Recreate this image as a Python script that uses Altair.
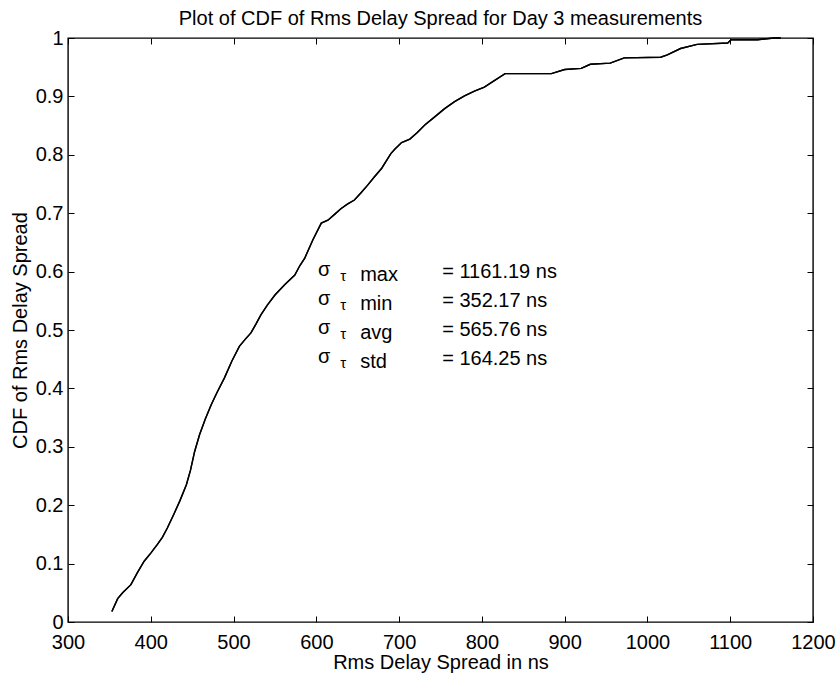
import altair as alt
import pandas as pd

# ---- data ----
rms_delay_ns = [353, 360, 366, 376, 384, 392, 400, 408, 414, 420, 428, 435, 443, 448,
                453, 459, 466, 473, 480, 489, 498, 507, 514, 521, 527, 533, 541, 550,
                562, 574, 580, 586, 596, 606, 614, 622, 630, 638, 646, 654, 662, 670,
                679, 690, 695, 703, 713, 722, 731, 743, 755, 767, 779, 791, 803, 815,
                828, 856, 884, 900, 920, 931, 955, 972, 1016, 1024, 1040, 1060, 1097,
                1101, 1133, 1153, 1161]
cdf_values = [0.018, 0.040, 0.050, 0.064, 0.085, 0.104, 0.118, 0.133, 0.145, 0.161,
              0.185, 0.207, 0.235, 0.260, 0.292, 0.321, 0.348, 0.372, 0.393, 0.418,
              0.447, 0.472, 0.484, 0.495, 0.510, 0.526, 0.543, 0.560, 0.578, 0.594,
              0.610, 0.623, 0.655, 0.683, 0.688, 0.698, 0.708, 0.716, 0.7225, 0.735,
              0.748, 0.762, 0.777, 0.802, 0.810, 0.821, 0.827, 0.838, 0.851, 0.865,
              0.879, 0.891, 0.901, 0.909, 0.916, 0.927, 0.939, 0.939, 0.939, 0.946,
              0.948, 0.955, 0.957, 0.966, 0.967, 0.971, 0.982, 0.989, 0.9915, 0.997,
              0.997, 1.0, 1.0]
x_ticks = [300, 400, 500, 600, 700, 800, 900, 1000, 1100, 1200]
y_ticks = [0, 0.1, 0.2, 0.3, 0.4, 0.5, 0.6, 0.7, 0.8, 0.9, 1]
stat_names = ["max", "min", "avg", "std"]
stat_values = ["= 1161.19 ns", "= 352.17 ns", "= 565.76 ns", "= 164.25 ns"]

FONT = "Liberation Sans"
FS = 20

curve = pd.DataFrame({"rms": rms_delay_ns, "cdf": cdf_values})
stats = pd.DataFrame({"name": stat_names, "value": stat_values})
stats["row"] = range(len(stats))
stats["y"] = 0.6 - 0.05 * stats["row"]

xscale = alt.Scale(domain=[300, 1200], nice=False, zero=False)
yscale = alt.Scale(domain=[0, 1], nice=False)

TICK = 6

x_bottom = alt.Axis(values=x_ticks, orient="bottom", offset=-TICK, tickSize=TICK,
                    domain=False, grid=False, labelFlush=False, labelOverlap=False,
                    labelPadding=10, labelFontSize=FS, labelFont=FONT, labelColor="black",
                    format="d",
                    tickColor="black", title="Rms Delay Spread in ns", titleFontSize=FS,
                    titleFont=FONT, titleFontWeight="normal", titleColor="black",
                    titlePadding=0)
y_left = alt.Axis(values=y_ticks, orient="left", offset=-TICK, tickSize=TICK,
                  domain=False, grid=False, labelFlush=False, labelOverlap=False,
                  labelPadding=5, labelFontSize=FS, labelFont=FONT, labelColor="black",
                  tickColor="black", title="CDF of Rms Delay Spread", titleFontSize=FS,
                  titleFont=FONT, titleFontWeight="normal", titleColor="black",
                  titlePadding=5, labelExpr="datum.value == 0 ? '0' : format(datum.value, '.1')")
x_top = alt.Axis(values=x_ticks, orient="top", offset=-TICK, tickSize=TICK,
                 domain=False, grid=False, labels=False, title=None, tickColor="black")
y_right = alt.Axis(values=y_ticks, orient="right", offset=-TICK, tickSize=TICK,
                   domain=False, grid=False, labels=False, title=None, tickColor="black")

line = alt.Chart(curve).mark_line(color="black", strokeWidth=1.4).encode(
    x=alt.X("rms:Q", scale=xscale, axis=x_bottom),
    y=alt.Y("cdf:Q", scale=yscale, axis=y_left),
)
frame_axes = alt.Chart(curve).mark_line(color="black", strokeWidth=1.4).encode(
    x=alt.X("rms:Q", scale=xscale, axis=x_top),
    y=alt.Y("cdf:Q", scale=yscale, axis=y_right),
)

def tx(v):
    return alt.X(datum=v, type="quantitative", scale=xscale, axis=None)

ty = alt.Y("y:Q", scale=yscale, axis=None)

sigma = alt.Chart(stats).mark_text(text="σ", font=FONT, fontSize=FS, align="left",
                                   baseline="middle", color="black", dy=-2).encode(
    x=tx(602), y=ty)
tau = alt.Chart(stats).mark_text(text="τ", font=FONT, fontSize=15, align="left",
                                 baseline="middle", color="black", dy=4).encode(
    x=tx(629), y=ty)
names = alt.Chart(stats).mark_text(font=FONT, fontSize=FS, align="left",
                                   baseline="middle", color="black", dy=3).encode(
    x=tx(653), y=ty, text="name:N")
values = alt.Chart(stats).mark_text(font=FONT, fontSize=FS, align="left",
                                    baseline="middle", color="black").encode(
    x=tx(752), y=ty, text="value:N")

chart = alt.layer(line, frame_axes, sigma, tau, names, values).resolve_axis(
    x="independent", y="independent"
).properties(
    width=745, height=584,
    autosize=alt.AutoSizeParams(type="none"),
    padding={"left": 68, "top": 38, "right": 26, "bottom": 53},
    title=alt.TitleParams("Plot of CDF of Rms Delay Spread for Day 3 measurements",
                          font=FONT, fontSize=FS, fontWeight="normal", color="black",
                          anchor="middle", offset=-1),
    background="white",
).configure_view(stroke="black", strokeWidth=1.4)

chart.save("out.html", embed_options={"renderer": "svg", "actions": False})
